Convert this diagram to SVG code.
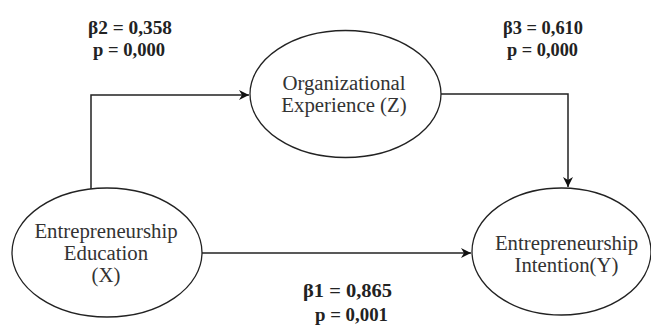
<svg xmlns="http://www.w3.org/2000/svg" width="651" height="327" viewBox="0 0 651 327">
<defs>
<style>
.node ellipse{fill:#fff;stroke:#222;stroke-width:1.3}
.node text{font-family:"Liberation Serif","Times New Roman",serif;font-size:20.8px;fill:#333;text-anchor:middle}
.lbl{font-family:"Liberation Serif","Times New Roman",serif;font-size:18px;font-weight:bold;fill:#222;text-anchor:middle}
.conn{fill:none;stroke:#222;stroke-width:1.5}
</style>
<marker id="arr" viewBox="0 0 10 10" refX="10" refY="5" markerWidth="10" markerHeight="10" markerUnits="userSpaceOnUse" orient="auto">
<path d="M0,0 L10,5 L0,10 L3,5 Z" fill="#111"/>
</marker>
</defs>
<rect width="651" height="327" fill="#fff"/>
<g id="connectors">
<path class="conn" d="M91,189 V95 H249" marker-end="url(#arr)"/>
<path class="conn" d="M441,94 H568 V187" marker-end="url(#arr)"/>
<path class="conn" d="M202,253 H471" marker-end="url(#arr)"/>
</g>
<g id="node-z" class="node">
<ellipse cx="345.5" cy="94" rx="95.5" ry="63.5"/>
<text x="344" y="90">Organizational</text>
<text x="344" y="112">Experience (Z)</text>
</g>
<g id="node-x" class="node">
<ellipse cx="107" cy="252.5" rx="95" ry="64.5"/>
<text x="106" y="238">Entrepreneurship</text>
<text x="106" y="260">Education</text>
<text x="106" y="282">(X)</text>
</g>
<g id="node-y" class="node">
<ellipse cx="561.5" cy="251.5" rx="89.5" ry="63.5"/>
<text x="566.5" y="250">Entrepreneurship</text>
<text x="566.5" y="272">Intention(Y)</text>
</g>
<g id="labels">
<text class="lbl" x="130" y="34" textLength="84" lengthAdjust="spacingAndGlyphs">β2 = 0,358</text>
<text class="lbl" x="129" y="56" textLength="72" lengthAdjust="spacingAndGlyphs">p = 0,000</text>
<text class="lbl" x="543" y="34" textLength="80" lengthAdjust="spacingAndGlyphs">β3 = 0,610</text>
<text class="lbl" x="542.5" y="56" textLength="71" lengthAdjust="spacingAndGlyphs">p = 0,000</text>
<text class="lbl" x="347.5" y="297" textLength="89" lengthAdjust="spacingAndGlyphs">β1 = 0,865</text>
<text class="lbl" x="351.5" y="321" textLength="73" lengthAdjust="spacingAndGlyphs">p = 0,001</text>
</g>
</svg>
